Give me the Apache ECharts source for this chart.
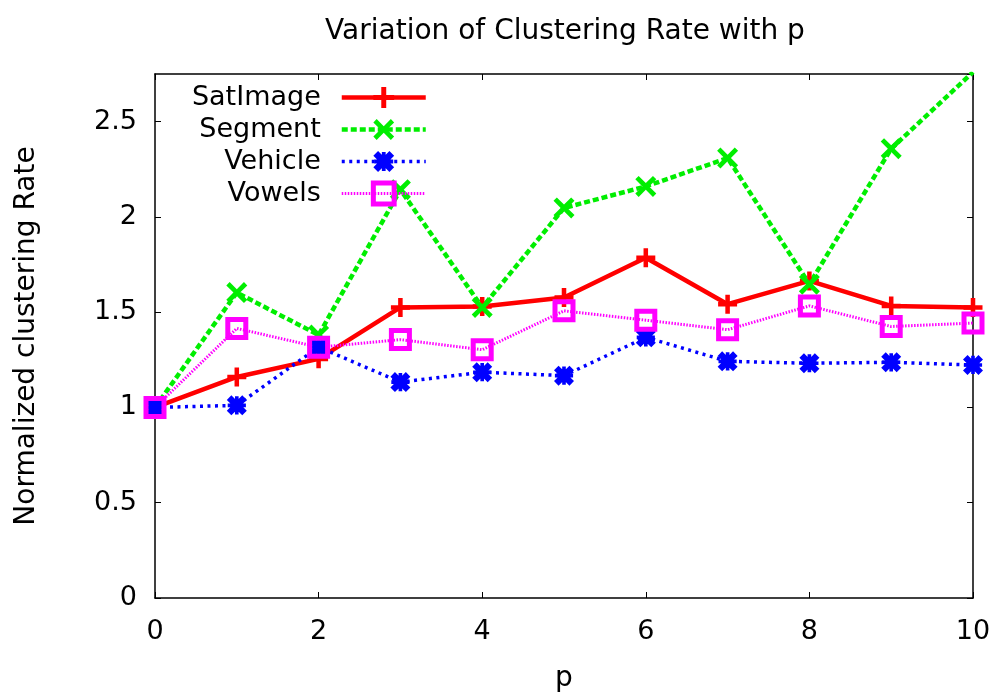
<!DOCTYPE html>
<html>
<head>
<meta charset="utf-8">
<script src="https://cdn.jsdelivr.net/npm/echarts@6/dist/echarts.min.js"></script>
<style>html,body{margin:0;padding:0;background:#fff}#c{width:998px;height:698px}</style>
</head>
<body>
<div id="c"></div>
<script>
const pValues = [0, 1, 2, 3, 4, 5, 6, 7, 8, 9, 10];
const satImage = [1.0, 1.16, 1.255, 1.525, 1.53, 1.577, 1.786, 1.542, 1.664, 1.533, 1.525];
const segment  = [1.0, 1.603, 1.38, 2.143, 1.525, 2.047, 2.16, 2.309, 1.647, 2.358, 2.76];
const vehicle  = [1.0, 1.011, 1.317, 1.133, 1.185, 1.167, 1.368, 1.242, 1.232, 1.237, 1.223];
const vowels   = [1.0, 1.415, 1.316, 1.356, 1.303, 1.507, 1.458, 1.408, 1.533, 1.425, 1.443];
const seriesNames = ['SatImage', 'Segment', 'Vehicle', 'Vowels'];
const yTickLabels = ['0', '0.5', '1', '1.5', '2', '2.5'];

const FONT = 'DejaVu Sans, Liberation Sans, Arial, sans-serif';
const pair = (arr) => pValues.map((p, i) => [p, arr[i]]);

const plusPath = 'path://M8,0 H13 V8 H21 V13 H13 V21 H8 V13 H0 V8 H8 Z';
const xPath = 'path://M0,3.5 L3.5,0 L11,7.5 L18.5,0 L22,3.5 L14.5,11 L22,18.5 L18.5,22 L11,14.5 L3.5,22 L0,18.5 L7.5,11 Z';
const starPath = 'path://M0,5 L5,0 L11,6 L17,0 L22,5 L16,11 L22,17 L17,22 L11,16 L5,22 L0,17 L6,11 Z M9,1 L13,1 L13,9 L21,9 L21,13 L13,13 L13,21 L9,21 L9,13 L1,13 L1,9 L9,9 Z';

const lineWidths = {SatImage: 4.5, Segment: 4.5, Vehicle: 3.5, Vowels: 3};

const chart = echarts.init(document.getElementById('c'), null, {renderer: 'canvas'});
const frameLine = {show: true, onZero: false, lineStyle: {color: '#000', width: 1.5}};
const tickStyle = {show: true, inside: true, length: 6, lineStyle: {color: '#000', width: 1}};
const option = {
  backgroundColor: '#fff',
  animation: false,
  title: {
    text: 'Variation of Clustering Rate with p',
    left: 560, top: 13, textAlign: 'center',
    textStyle: {fontFamily: FONT, fontSize: 28, fontWeight: 'normal', color: '#000'}
  },
  grid: {left: 155, right: 25, top: 74, bottom: 98, containLabel: false},
  legend: {
    orient: 'vertical', align: 'right', right: 570, top: 84, padding: 0,
    itemWidth: 84, itemHeight: 26, itemGap: 5,
    data: seriesNames.map((n) => ({
      name: n,
      lineStyle: {width: lineWidths[n]},
      itemStyle: n === 'Vowels' ? {borderWidth: 5, color: 'rgba(255,255,255,0)'} : {}
    })),
    textStyle: {fontFamily: FONT, fontSize: 27, color: '#000', lineHeight: 26, padding: [0, 16, 0, 0]}
  },
  xAxis: [{
    type: 'value', min: 0, max: 10, interval: 2, position: 'bottom',
    name: 'p', nameLocation: 'middle', nameGap: 67,
    nameTextStyle: {fontFamily: FONT, fontSize: 28, color: '#000'},
    axisLine: frameLine, axisTick: tickStyle,
    axisLabel: {fontFamily: FONT, fontSize: 27, color: '#000', margin: 20},
    splitLine: {show: false}
  }, {
    type: 'value', min: 0, max: 10, interval: 2, position: 'top',
    axisLine: frameLine, axisTick: tickStyle,
    axisLabel: {show: false}, splitLine: {show: false}
  }],
  yAxis: [{
    type: 'value', min: 0, max: 2.75, interval: 0.5, position: 'left',
    name: 'Normalized clustering Rate', nameLocation: 'middle', nameGap: 114,
    nameTextStyle: {fontFamily: FONT, fontSize: 28, color: '#000'},
    axisLine: frameLine, axisTick: tickStyle,
    axisLabel: {fontFamily: FONT, fontSize: 27, color: '#000', margin: 18, showMaxLabel: false,
      formatter: (v) => { const i = Math.round(v / 0.5); return (Math.abs(v - i * 0.5) < 1e-9 && i < yTickLabels.length) ? yTickLabels[i] : ''; }},
    splitLine: {show: false}
  }, {
    type: 'value', min: 0, max: 2.75, interval: 0.5, position: 'right',
    axisLine: frameLine, axisTick: tickStyle,
    axisLabel: {show: false}, splitLine: {show: false}
  }],
  series: [
    {
      name: 'SatImage', type: 'line', data: pair(satImage),
      symbol: plusPath, symbolSize: 19,
      lineStyle: {color: '#ff0000', width: lineWidths.SatImage, type: 'solid'},
      itemStyle: {color: '#ff0000'}
    },
    {
      name: 'Segment', type: 'line', data: pair(segment),
      symbol: xPath, symbolSize: 21,
      lineStyle: {color: '#00ee00', width: lineWidths.Segment, type: [6, 3]},
      itemStyle: {color: '#00ee00'}
    },
    {
      name: 'Vehicle', type: 'line', data: pair(vehicle),
      symbol: starPath, symbolSize: 20,
      lineStyle: {color: '#0000ff', width: lineWidths.Vehicle, type: [3, 4.5]},
      itemStyle: {color: '#0000ff'}
    },
    {
      name: 'Vowels', type: 'line', data: pair(vowels),
      symbol: 'rect', symbolSize: 18,
      lineStyle: {color: '#ff00ff', width: lineWidths.Vowels, type: [1.5, 1.5]},
      itemStyle: {color: 'rgba(255,255,255,0)', borderColor: '#ff00ff', borderWidth: 5}
    }
  ]
};
chart.setOption(option);
</script>
</body>
</html>
